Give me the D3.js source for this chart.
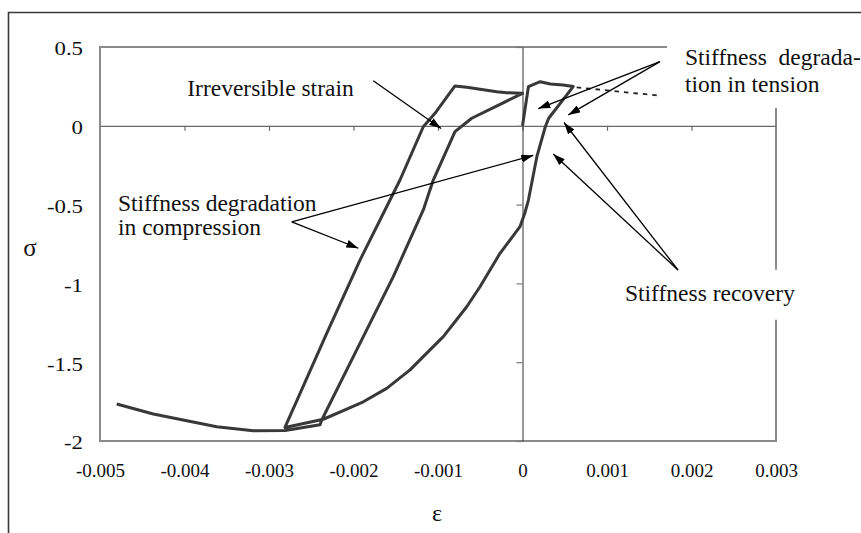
<!DOCTYPE html>
<html>
<head>
<meta charset="utf-8">
<script src="https://cdn.jsdelivr.net/npm/d3@7"></script>
<style>
  html, body { margin: 0; padding: 0; background: #fff; }
  svg { display: block; }
  svg text { font-family: "Liberation Serif", "Times New Roman", serif; }
</style>
</head>
<body>
<svg id="chart" width="861" height="533"></svg>
<script>
// Cyclic uniaxial stress–strain response (one continuous loading path)
const strainPath = [
  0, 0.00007, 0.00021, 0.00033, 0.00048, 0.00060,
  0.00031, 0.00027, 0.00017, 0.00007, 0.00003,
  -0.00003, -0.000266, -0.000503, -0.00066, -0.000937, -0.001095, -0.001331, -0.001607,
  -0.001884, -0.002121, -0.002357, -0.002811,
  -0.002317, -0.001923, -0.001627, -0.001450, -0.001174, -0.001036, -0.000799,
  -0.000660, -0.000305, -0.000187, 0,
  -0.000601, -0.000799, -0.001056, -0.001174, -0.001529, -0.001903, -0.002376, -0.002396, -0.002811,
  -0.003186, -0.003619, -0.004369, -0.004802
];
const stressPath = [
  0, 0.248, 0.280, 0.265, 0.259, 0.249,
  0.048, -0.006, -0.196, -0.471, -0.550,
  -0.640, -0.809, -1.021, -1.148, -1.338, -1.422, -1.549, -1.666,
  -1.751, -1.808, -1.862, -1.914,
  -1.317, -0.852, -0.534, -0.344, -0.006, 0.079, 0.253,
  0.244, 0.216, 0.210, 0.206,
  0.048, -0.037, -0.344, -0.534, -0.957, -1.358, -1.867, -1.897, -1.934,
  -1.935, -1.909, -1.829, -1.765
];

// Dotted continuation of the tension softening branch
const dottedStrain = [0.000641, 0.001627];
const dottedStress = [0.244, 0.191];

// Axis ticks
const xTicks = [-0.005, -0.004, -0.003, -0.002, -0.001, 0, 0.001, 0.002, 0.003];
const xTickLabels = ["-0.005", "-0.004", "-0.003", "-0.002", "-0.001", "0", "0.001", "0.002", "0.003"];
const yTicks = [0.5, 0, -0.5, -1, -1.5, -2];
const yTickLabels = ["0.5", "0", "-0.5", "-1", "-1.5", "-2"];

// Annotation labels (strain, stress of the first baseline) and their arrows
const labelText = [
  ["Irreversible strain"],
  ["Stiffness degradation", "in compression"],
  ["Stiffness\u00a0\u00a0degrada-", "tion in tension"],
  ["Stiffness recovery"]
];
const labelStrain = [-0.003967, -0.004787, 0.001923, 0.001213];
const labelStress = [0.191, -0.541, 0.386, -1.110];
const arrowFromStrain = [-0.001766, -0.002731, -0.002731, 0.001627, 0.001627, 0.001840, 0.001840];
const arrowFromStress = [0.286, -0.609, -0.609, 0.407, 0.407, -0.915, -0.915];
const arrowToStrain = [-0.000964, -0.001943, 0.000128, 0.000187, 0.000542, 0.000491, 0.000364];
const arrowToStress = [-0.017, -0.777, -0.188, 0.109, 0.069, 0.021, -0.179];

const serif = '"Liberation Serif", "Times New Roman", serif';
const svg = d3.select("#chart");
const W = 861, H = 533;
const plot = { left: 100, right: 776, top: 47, bottom: 441 };

const x = d3.scaleLinear().domain([-0.005, 0.003]).range([plot.left, plot.right]);
const y = d3.scaleLinear().domain([-2, 0.5]).range([plot.bottom, plot.top]);

// Outer frame (top and left edges visible)
svg.append("path")
  .attr("d", `M8.5,${H} V12.5 H${W}`)
  .attr("fill", "none")
  .attr("stroke", "#3a3a3a")
  .attr("stroke-width", 1.6);

// Plot area border
svg.append("rect")
  .attr("x", plot.left).attr("y", plot.top)
  .attr("width", plot.right - plot.left).attr("height", plot.bottom - plot.top)
  .attr("fill", "none")
  .attr("stroke", "#8a8a8a")
  .attr("stroke-width", 2);

// Zero axes with their tick marks
const hAxis = svg.append("g")
  .attr("transform", `translate(0,${y(0)})`)
  .call(d3.axisBottom(x).tickValues(xTicks.slice(1, -1)).tickSize(5).tickSizeOuter(0).tickFormat(""));
hAxis.select(".domain").attr("stroke", "#6a6a6a").attr("stroke-width", 1.3);
hAxis.selectAll(".tick line").attr("stroke", "#6a6a6a").attr("stroke-width", 1.2);

const vAxis = svg.append("g")
  .attr("transform", `translate(${x(0)},0)`)
  .call(d3.axisLeft(y).tickValues(yTicks).tickSize(6).tickSizeOuter(0).tickFormat(""));
vAxis.select(".domain").attr("stroke", "#333").attr("stroke-width", 1);
vAxis.selectAll(".tick line").attr("stroke", "#777").attr("stroke-width", 1.2);

// Tick labels
const xLab = svg.append("g")
  .attr("transform", `translate(0,${plot.bottom})`)
  .call(d3.axisBottom(x).tickValues(xTicks).tickSize(0).tickPadding(22.5)
    .tickFormat((d, i) => xTickLabels[i]));
xLab.attr("font-family", null).attr("font-size", null);
xLab.select(".domain").remove();
xLab.selectAll("text")
  .style("font-family", serif)
  .style("font-size", "19px")
  .attr("fill", "#111");

const yStretch = 1.17;
const yLab = svg.append("g")
  .attr("transform", `translate(${plot.left},0)`)
  .call(d3.axisLeft(y).tickValues(yTicks).tickSize(0).tickPadding(17)
    .tickFormat((d, i) => yTickLabels[i]));
yLab.attr("font-family", null).attr("font-size", null);
yLab.select(".domain").remove();
yLab.selectAll("text")
  .style("font-family", serif)
  .style("font-size", "19.5px")
  .attr("fill", "#111")
  .attr("x", -17 / yStretch)
  .attr("dy", "0.41em")
  .attr("transform", `scale(${yStretch},1)`);

// Axis titles
svg.append("text")
  .attr("x", 30).attr("y", 256)
  .attr("text-anchor", "middle")
  .style("font-family", serif)
  .style("font-size", "25px")
  .attr("fill", "#111")
  .text("σ");
svg.append("text")
  .attr("x", 437).attr("y", 521)
  .attr("text-anchor", "middle")
  .style("font-family", serif)
  .style("font-size", "24px")
  .attr("fill", "#111")
  .text("ε");

// Stress–strain curve
const line = d3.line().x(d => x(d[0])).y(d => y(d[1]));
svg.append("path")
  .datum(strainPath.map((s, i) => [s, stressPath[i]]))
  .attr("d", line)
  .attr("fill", "none")
  .attr("stroke", "#383838")
  .attr("stroke-width", 3)
  .attr("stroke-linejoin", "round");

svg.append("path")
  .datum(dottedStrain.map((s, i) => [s, dottedStress[i]]))
  .attr("d", line)
  .attr("fill", "none")
  .attr("stroke", "#222")
  .attr("stroke-width", 1.8)
  .attr("stroke-dasharray", "4.5,5");

// White boxes behind the labels that sit on the plot border
const tensionY = y(labelStress[2]);
svg.append("rect")
  .attr("x", 667).attr("y", tensionY - 25)
  .attr("width", W - 667).attr("height", 68)
  .attr("fill", "#fff");
const recoveryY = y(labelStress[3]);
svg.append("rect")
  .attr("x", x(labelStrain[3]) - 6).attr("y", recoveryY - 31)
  .attr("width", 185).attr("height", 50)
  .attr("fill", "#fff");

// Arrowhead marker
svg.append("defs").append("marker")
  .attr("id", "arrowhead")
  .attr("markerUnits", "userSpaceOnUse")
  .attr("viewBox", "0 0 12 8")
  .attr("refX", 12).attr("refY", 4)
  .attr("markerWidth", 12).attr("markerHeight", 8)
  .attr("orient", "auto")
  .append("path")
  .attr("d", "M0,0 L12,4 L0,8 Z")
  .attr("fill", "#000");

svg.append("g").selectAll("line")
  .data(arrowFromStrain.map((s, i) => i))
  .join("line")
  .attr("x1", i => x(arrowFromStrain[i]))
  .attr("y1", i => y(arrowFromStress[i]))
  .attr("x2", i => x(arrowToStrain[i]))
  .attr("y2", i => y(arrowToStress[i]))
  .attr("stroke", "#000")
  .attr("stroke-width", 1.3)
  .attr("marker-end", "url(#arrowhead)");

// Annotation text
const lineGaps = [0, 24, 27.5, 0];
labelText.forEach((lines, i) => {
  const t = svg.append("text")
    .attr("x", x(labelStrain[i]))
    .attr("y", y(labelStress[i]))
    .style("font-family", serif)
    .style("font-size", "23.5px")
    .attr("fill", "#111");
  lines.forEach((s, j) => {
    t.append("tspan")
      .attr("x", x(labelStrain[i]))
      .attr("dy", j === 0 ? 0 : lineGaps[i])
      .text(s);
  });
});
</script>
</body>
</html>
